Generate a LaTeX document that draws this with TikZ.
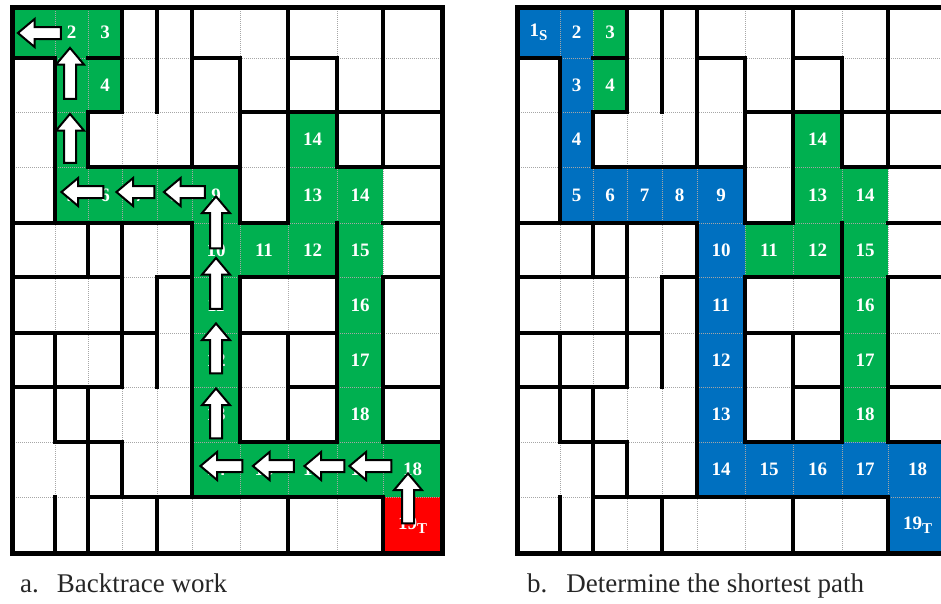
\documentclass[tikz,border=0pt]{standalone}
\usepackage{fontspec}
\setmainfont{Liberation Serif}
\usepackage{xcolor}
\usetikzlibrary{positioning, arrows.meta, calc, shapes.arrows}

\definecolor{celdaverde}{HTML}{00B050}
\definecolor{celdaazul}{HTML}{0070C0}
\definecolor{celdaroja}{HTML}{FF0000}

\newcommand{\subidx}[1]{\raisebox{-4pt}{\fontsize{15}{15}\selectfont #1}}

% celda: rejilla, columna, fila, color, texto
\newcommand{\celda}[5]{%
  \pgfmathtruncatemacro{\sigc}{#2+1}%
  \pgfmathtruncatemacro{\sigf}{#3+1}%
  \fill[#4] (#1_#2_#3) rectangle (#1_\sigc_\sigf);
  \node[num] (#1_n_#2_#3) at ($(#1_#2_#3)!0.5!(#1_\sigc_\sigf)$) {#5};
}

\begin{document}
\begin{tikzpicture}[
x=1pt, y=-1pt,
num/.style={text=white, font=\fontsize{19}{19}\selectfont\bfseries, inner sep=0pt},
rejilla/.style={gray!70, line width=0.9pt, dash pattern=on 1pt off 1pt},
muro/.style={black, line width=4.5pt, line cap=rect},
borde/.style={black, line width=5pt, line cap=rect},
flecha/.style={single arrow, draw=black, fill=white, line width=2pt, inner sep=5pt, single arrow head extend=8pt, single arrow tip angle=80, minimum width=0pt},
leyenda/.style={font=\fontsize{27}{27}\selectfont, text=black!85, inner sep=0pt}
]

\useasboundingbox (0,0) rectangle (941,603);
\clip (0,0) rectangle (941,603);

\foreach \g/\ox in {back/12, path/517}{
  \foreach \cx [count=\i from 0] in {0,43,76,110,145,180,228,276,325,371,430}{
    \foreach \ry [count=\j from 0] in {0,51,105,160,216,270,326,380,435,490,546}{
      \coordinate (\g_\i_\j) at (\ox+\cx, 7+\ry);
    }
  }
}

\celda{back}{0}{0}{celdaverde}{1\subidx{S}}
\foreach \c/\r/\t in {1/0/2, 2/0/3, 1/1/3, 2/1/4, 1/2/4, 1/3/5, 2/3/6, 3/3/7, 4/3/8, 5/3/9, 7/2/14, 7/3/13, 8/3/14, 5/4/10, 6/4/11, 7/4/12, 8/4/15, 5/5/11, 8/5/16, 5/6/12, 8/6/17, 5/7/13, 8/7/18, 5/8/14, 6/8/15, 7/8/16, 8/8/17, 9/8/18}
  {\celda{back}{\c}{\r}{celdaverde}{\t}}
\celda{back}{9}{9}{celdaroja}{19\subidx{T}}

\celda{path}{0}{0}{celdaazul}{1\subidx{S}}
\foreach \c/\r/\t in {1/0/2, 1/1/3, 1/2/4, 1/3/5, 2/3/6, 3/3/7, 4/3/8, 5/3/9, 5/4/10, 5/5/11, 5/6/12, 5/7/13, 5/8/14, 6/8/15, 7/8/16, 8/8/17, 9/8/18}
  {\celda{path}{\c}{\r}{celdaazul}{\t}}
\celda{path}{9}{9}{celdaazul}{19\subidx{T}}
\foreach \c/\r/\t in {2/0/3, 2/1/4, 7/2/14, 7/3/13, 8/3/14, 6/4/11, 7/4/12, 8/4/15, 8/5/16, 8/6/17, 8/7/18}
  {\celda{path}{\c}{\r}{celdaverde}{\t}}

\foreach \g in {back, path}{
  \foreach \i in {1,...,9}{
    \draw[rejilla] (\g_\i_0) -- (\g_\i_10);
    \draw[rejilla] (\g_0_\i) -- (\g_10_\i);
  }
  \foreach \i/\r [evaluate=\r as \rn using int(\r+1)] in {1/1,1/2,1/3,1/6,1/7,1/9, 2/2,2/4,2/7,2/8,2/9, 3/0,3/1,3/4,3/5,3/6,3/8, 4/0,4/1,4/5,4/6,4/9, 5/0,5/1,5/2,5/4,5/5,5/6,5/7,5/8, 6/1,6/2,6/3,6/5,6/6,6/7, 7/0,7/1,7/2,7/3,7/6,7/7,7/9, 8/1,8/2,8/4,8/5,8/6,8/7, 9/0,9/1,9/2,9/5,9/6,9/7,9/9}
    \draw[muro] (\g_\i_\r) -- (\g_\i_\rn);
  \foreach \j/\c [evaluate=\c as \cn using int(\c+1)] in {1/0,1/2,1/5,1/7, 2/2,2/6,2/7,2/8,2/9, 3/2,3/3,3/4,3/5,3/8,3/9, 4/0,4/1,4/2,4/3,4/4,4/6,4/9, 5/0,5/1,5/2,5/4,5/6,5/7,5/9, 6/0,6/1,6/2,6/3,6/6,6/7, 7/0,7/1,7/2,7/7,7/9, 8/1,8/2,8/6,8/7,8/9, 9/2,9/3,9/4,9/5,9/6,9/7,9/8}
    \draw[muro] (\g_\c_\j) -- (\g_\cn_\j);
  \draw[borde] (\g_0_0) rectangle (\g_10_10);
}

\foreach \n/\x/\y/\l in {1/408/502/50, 2/216/417/50, 3/216/352/50, 4/216/287/51, 5/216/226/52, 6/70/142/49, 7/70/77/51}
  \node[flecha, shape border rotate=90, minimum height=\l pt] (fl_sube_\n) at (\x,\y) {};
\foreach \n/\x/\y/\l in {1/374/466/42, 2/328/466/40, 3/277/466/41, 4/225/466/42, 5/188/192/41, 6/139/192/38, 7/86/192/42, 8/43/33/43}
  \node[flecha, shape border rotate=180, minimum height=\l pt] (fl_izq_\n) at (\x,\y) {};

\node[leyenda, anchor=base west] (ley_a) at (20,592) {a.\hspace{18pt}Backtrace work};
\node[leyenda, anchor=base west] (ley_b) at (527,592) {b.\hspace{19pt}Determine the shortest path};

\end{tikzpicture}
\end{document}
